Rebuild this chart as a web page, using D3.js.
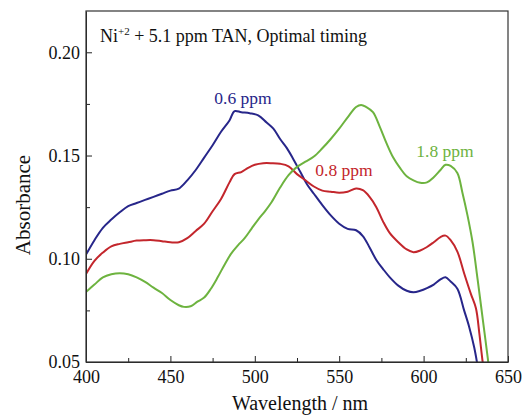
<!DOCTYPE html>
<html><head><meta charset="utf-8">
<script src="https://cdn.jsdelivr.net/npm/d3@7"></script>
<style>body{margin:0;background:#fff}svg{display:block}text{font-family:"Liberation Serif","Times New Roman",serif}</style>
</head><body>
<svg id="c" width="528" height="416"></svg>
<script>
const blueW = [400,405,410,415,420,425,430,435,440,445,450,455,460,465,470,475,480,485,488,492,497,502,507,511,515,519,523,527,531,535,540,545,550,555,560,564,568,572,576,580,585,590,594,598,602,606,610,613,616,620,624,627,630,632];
const blueA = [0.102,0.109,0.115,0.119,0.1225,0.1255,0.127,0.1285,0.130,0.1315,0.133,0.134,0.138,0.143,0.149,0.155,0.1615,0.167,0.1715,0.171,0.1705,0.1695,0.166,0.163,0.158,0.1536,0.148,0.142,0.136,0.1315,0.126,0.121,0.117,0.1145,0.1138,0.111,0.1055,0.0994,0.095,0.091,0.087,0.0845,0.0838,0.0845,0.0858,0.0875,0.090,0.091,0.089,0.0855,0.075,0.067,0.057,0.048];
const redW = [400,405,410,415,420,425,430,435,440,445,450,455,460,465,470,475,480,485,488,492,496,500,505,510,515,520,525,530,535,540,545,550,555,560,564,568,572,576,580,585,590,594,598,602,606,610,613,616,620,624,628,631,633,635,636];
const redA = [0.0926,0.099,0.103,0.106,0.1072,0.108,0.1088,0.109,0.109,0.1085,0.108,0.108,0.110,0.1135,0.117,0.123,0.129,0.137,0.141,0.142,0.144,0.1455,0.1463,0.1463,0.146,0.1448,0.141,0.138,0.135,0.133,0.1325,0.132,0.1325,0.134,0.1332,0.130,0.125,0.118,0.1124,0.108,0.1045,0.1032,0.104,0.1057,0.108,0.1105,0.1112,0.109,0.1035,0.093,0.083,0.076,0.064,0.05,0.045];
const greenW = [400,405,410,415,420,425,430,435,440,445,450,455,458,462,466,470,474,478,482,486,490,494,498,502,506,510,515,520,525,530,535,540,545,550,555,560,563,566,570,574,578,582,586,590,594,598,602,606,610,613,616,620,623,626,629,632,635,638,639];
const greenA = [0.0839,0.0875,0.091,0.0925,0.093,0.0925,0.091,0.0888,0.086,0.0834,0.080,0.0775,0.0767,0.077,0.0792,0.0812,0.0855,0.091,0.097,0.1025,0.1065,0.110,0.1145,0.119,0.123,0.1275,0.1345,0.1405,0.1445,0.147,0.1495,0.1535,0.158,0.163,0.1685,0.1735,0.1745,0.1735,0.171,0.164,0.156,0.149,0.144,0.140,0.138,0.1368,0.137,0.1395,0.143,0.1455,0.145,0.1415,0.132,0.121,0.108,0.090,0.071,0.052,0.045];
const seriesNames = ["0.6 ppm","0.8 ppm","1.8 ppm"];
const xTicks = [400,450,500,550,600,650];
const yTicks = [0.05,0.10,0.15,0.20];

const svg = d3.select("#c");
const L=86,R=508,T=11,B=362;
const x = d3.scaleLinear().domain([400,650]).range([L,R]);
const y = d3.scaleLinear().domain([0.05,0.22]).range([B,T]);

svg.append("clipPath").attr("id","clip").append("rect").attr("x",L).attr("y",T).attr("width",R-L).attr("height",B-T);

const series = [
  {w:blueW,a:blueA,color:"#27268a",name:seriesNames[0],lx:243,ly:104},
  {w:redW,a:redA,color:"#c3262c",name:seriesNames[1],lx:344,ly:176},
  {w:greenW,a:greenA,color:"#6db33f",name:seriesNames[2],lx:445,ly:157}
];
const line = d3.line().x(d=>x(d[0])).y(d=>y(d[1])).curve(d3.curveCatmullRom.alpha(0.5));
const g = svg.append("g").attr("clip-path","url(#clip)");
series.forEach(s=>{
  g.append("path").attr("d",line(s.w.map((w,i)=>[w,s.a[i]]))).attr("fill","none").attr("stroke",s.color).attr("stroke-width",2);
});

// axes
svg.append("g").attr("transform",`translate(0,${B})`).call(d3.axisBottom(x).tickValues(xTicks).tickFormat(d3.format("d")).tickSizeInner(-6).tickSizeOuter(0).tickPadding(8));
svg.append("g").attr("transform",`translate(0,${B})`).call(d3.axisBottom(x).tickValues([425,475,525,575,625]).tickFormat("").tickSizeInner(-4).tickSizeOuter(0)).select(".domain").remove();
svg.append("g").attr("transform",`translate(${L},0)`).call(d3.axisLeft(y).tickValues(yTicks).tickFormat(d3.format(".2f")).tickSizeInner(-6).tickSizeOuter(0).tickPadding(6));
svg.append("g").attr("transform",`translate(${L},0)`).call(d3.axisLeft(y).tickValues([0.075,0.125,0.175]).tickFormat("").tickSizeInner(-4).tickSizeOuter(0)).select(".domain").remove();
svg.selectAll(".tick text").attr("font-size",18).attr("fill","#111").style("font-family","'Liberation Serif',serif");
svg.selectAll(".tick line").attr("stroke","#222");
svg.selectAll(".domain").attr("stroke","#222");
svg.append("rect").attr("x",L).attr("y",T).attr("width",R-L).attr("height",B-T).attr("fill","none").attr("stroke","#333").attr("stroke-width",1.2);

// labels
series.forEach(s=>{
  svg.append("text").attr("x",s.lx).attr("y",s.ly).attr("text-anchor","middle").attr("font-size",17.5).attr("fill",s.color).text(s.name);
});
const t = svg.append("text").attr("x",100).attr("y",42).attr("font-size",18).attr("fill","#111");
t.append("tspan").text("Ni");
t.append("tspan").attr("dy",-7).attr("font-size",11).text("+2");
t.append("tspan").attr("dy",7).text(" + 5.1 ppm TAN, Optimal timing");

svg.append("text").attr("x",300).attr("y",410).attr("text-anchor","middle").attr("font-size",20).attr("fill","#111").text("Wavelength / nm");
svg.append("text").attr("transform","translate(30,205) rotate(-90)").attr("text-anchor","middle").attr("font-size",21).attr("fill","#111").text("Absorbance");
</script>
</body></html>
